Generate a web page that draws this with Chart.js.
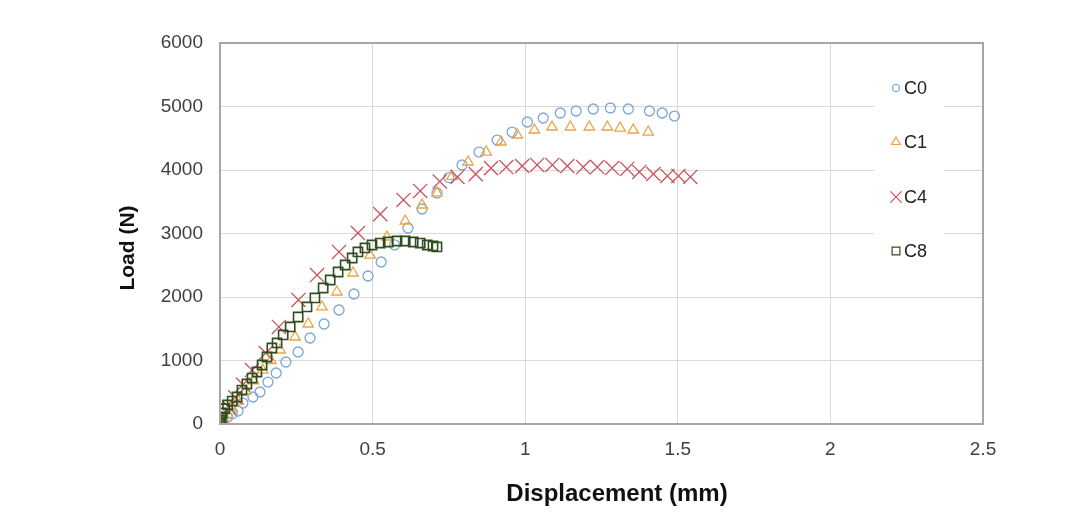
<!DOCTYPE html>
<html>
<head>
<meta charset="utf-8">
<script src="https://cdn.jsdelivr.net/npm/chart.js@4.4.1/dist/chart.umd.min.js"></script>
<style>
  html,body{ margin:0; padding:0; background:#fff; }
  #wrap{ width:1084px; height:525px; }
</style>
</head>
<body>
<div id="wrap"><canvas id="chart" width="1084" height="525"></canvas></div>
<script>
// load-displacement curves, values

const seriesNames = ['C0', 'C1', 'C4', 'C8'];

const c0Disp = [0, 0.01, 0.025, 0.04, 0.059, 0.075, 0.108, 0.131, 0.157, 0.184, 0.216, 0.256, 0.295, 0.341, 0.390, 0.439, 0.485, 0.528, 0.572, 0.616, 0.662, 0.711, 0.750, 0.793, 0.849, 0.908, 0.957, 1.007, 1.059, 1.115, 1.167, 1.223, 1.279, 1.338, 1.407, 1.449, 1.489];
const c0Load = [0, 50, 110, 160, 205, 330, 425, 504, 661, 803, 976, 1134, 1354, 1575, 1795, 2047, 2331, 2551, 2820, 3087, 3386, 3638, 3880, 4079, 4283, 4472, 4598, 4756, 4819, 4898, 4929, 4961, 4976, 4961, 4929, 4898, 4850];

const c1Disp = [0, 0.01, 0.025, 0.04, 0.06, 0.085, 0.11, 0.14, 0.167, 0.197, 0.246, 0.289, 0.334, 0.383, 0.436, 0.492, 0.547, 0.607, 0.662, 0.711, 0.760, 0.813, 0.872, 0.921, 0.974, 1.030, 1.088, 1.148, 1.210, 1.269, 1.311, 1.354, 1.403];
const c1Load = [0, 60, 150, 250, 360, 520, 680, 850, 1000, 1165, 1370, 1575, 1843, 2079, 2378, 2660, 2945, 3197, 3449, 3640, 3900, 4126, 4283, 4441, 4551, 4630, 4677, 4677, 4677, 4677, 4661, 4630, 4598];

const c4Disp = [0, 0.01, 0.03, 0.05, 0.075, 0.105, 0.150, 0.193, 0.257, 0.318, 0.390, 0.452, 0.525, 0.601, 0.656, 0.720, 0.778, 0.838, 0.888, 0.938, 0.990, 1.039, 1.089, 1.138, 1.190, 1.236, 1.285, 1.334, 1.374, 1.420, 1.466, 1.502, 1.541];
const c4Load = [0, 90, 260, 420, 620, 850, 1118, 1528, 1953, 2346, 2709, 3008, 3305, 3528, 3670, 3820, 3890, 3935, 4030, 4047, 4063, 4079, 4079, 4063, 4047, 4047, 4031, 4016, 3969, 3937, 3906, 3906, 3890];

const c8Disp = [0, 0.002, 0.004, 0.007, 0.015, 0.025, 0.04, 0.056, 0.072, 0.088, 0.105, 0.121, 0.138, 0.154, 0.170, 0.187, 0.207, 0.230, 0.256, 0.285, 0.311, 0.338, 0.361, 0.387, 0.410, 0.433, 0.452, 0.475, 0.498, 0.525, 0.551, 0.580, 0.607, 0.633, 0.656, 0.679, 0.698, 0.711];
const c8Load = [0, 60, 110, 173, 240, 300, 360, 425, 535, 630, 724, 819, 929, 1055, 1197, 1276, 1402, 1528, 1685, 1843, 1985, 2142, 2268, 2394, 2504, 2614, 2709, 2772, 2819, 2850, 2866, 2882, 2882, 2866, 2850, 2819, 2803, 2788];

const xTickLabels = ['0', '0.5', '1', '1.5', '2', '2.5'];
const yTickLabels = ['0', '1000', '2000', '3000', '4000', '5000', '6000'];
const xTitle = 'Displacement (mm)';
const yTitle = 'Load (N)';

function pts(xs, ys){ return xs.map((x,i)=>({ x, y: ys[i] })); }

const STYLES = [
  { color:'#7aa7d6', style:'circle',   radius:5,   lw:1.3, legendR:3.5 },
  { color:'#eaa43c', style:'triangle', radius:6,   lw:1.3, legendR:5 },
  { color:'#c9545c', style:'crossRot', radius:10,  lw:1.3, legendR:8 },
  { color:'#2f4d1f', style:'rect',     radius:6.5, lw:1.6, legendR:5.5 }
];
const seriesData = [pts(c0Disp,c0Load), pts(c1Disp,c1Load), pts(c4Disp,c4Load), pts(c8Disp,c8Load)];

const FONT = 'Liberation Sans, Arial, sans-serif';
const TXT = '#404040';

// frame round the plot area + axis titles
const framePlugin = {
  id:'frame',
  afterDraw(chart){
    const { ctx, chartArea:a } = chart;
    ctx.save();
    ctx.strokeStyle = '#a6a6a6';
    ctx.lineWidth = 2;
    ctx.strokeRect(a.left, a.top, a.right-a.left, a.bottom-a.top);

    ctx.fillStyle = '#111';
    ctx.textAlign = 'center';
    ctx.textBaseline = 'middle';
    ctx.font = 'bold 24px ' + FONT;
    ctx.fillText(xTitle, 617, 494);
    ctx.translate(128, 248);
    ctx.rotate(-Math.PI/2);
    ctx.font = 'bold 21px ' + FONT;
    ctx.fillText(yTitle, 0, 0);
    ctx.restore();
  }
};

// legend inside the plot, right side
const legendPlugin = {
  id:'innerLegend',
  afterDraw(chart){
    const ctx = chart.ctx;
    ctx.save();
    ctx.fillStyle = '#fff';
    ctx.fillRect(874, 62, 70, 212);
    const rows = [88, 142, 197, 251];
    seriesNames.forEach((name,i)=>{
      const s = STYLES[i];
      const y = rows[i], x = 896;
      if(Chart.helpers && Chart.helpers.drawPoint){
        ctx.strokeStyle = s.color;
        ctx.fillStyle = 'rgba(0,0,0,0)';
        ctx.lineWidth = 1.2;
        Chart.helpers.drawPoint(ctx, { pointStyle:s.style, radius:s.legendR, rotation:0, borderWidth:1.2 }, x, y);
      }
      ctx.fillStyle = '#222';
      ctx.font = '18px ' + FONT;
      ctx.textAlign = 'left';
      ctx.textBaseline = 'middle';
      ctx.fillText(name, x + 8, y + 1);
    });
    ctx.restore();
  }
};

const datasets = seriesNames.map((name,i)=>({
  label: name,
  data: seriesData[i],
  showLine: false,
  pointStyle: STYLES[i].style,
  pointRadius: STYLES[i].radius,
  pointHoverRadius: STYLES[i].radius,
  pointBorderColor: STYLES[i].color,
  pointBackgroundColor: 'rgba(0,0,0,0)',
  pointBorderWidth: STYLES[i].lw,
  order: 4 - i
}));

new Chart(document.getElementById('chart'), {
  type:'scatter',
  data:{ datasets },
  options:{
    responsive:false,
    animation:false,
    layout:{ padding:{ left:111, right:101, top:43, bottom:14 } },
    plugins:{ legend:{ display:false }, tooltip:{ enabled:false } },
    scales:{
      x:{
        type:'linear', min:0, max:2.5,
        afterBuildTicks(s){ s.ticks = xTickLabels.map(v=>({ value:Number(v) })); },
        afterFit(s){ s.height = 525 - 14 - 424; },
        grid:{ color:'#d9d9d9', lineWidth:1, drawTicks:false },
        border:{ color:'#a6a6a6', width:2 },
        ticks:{ padding:14, color:TXT, font:{ family:FONT, size:19 },
          callback:(v)=>xTickLabels.find(t=>Number(t)===v) ?? '' }
      },
      y:{
        type:'linear', min:0, max:6000,
        afterBuildTicks(s){ s.ticks = yTickLabels.map(v=>({ value:Number(v) })); },
        afterFit(s){ s.width = 220 - 111; },
        grid:{ color:'#d9d9d9', lineWidth:1, drawTicks:false },
        border:{ color:'#a6a6a6', width:2 },
        ticks:{ padding:17, color:TXT, font:{ family:FONT, size:19 },
          callback:(v)=>yTickLabels.find(t=>Number(t)===v) ?? '' }
      }
    }
  },
  plugins:[framePlugin, legendPlugin]
});
</script>
</body>
</html>
